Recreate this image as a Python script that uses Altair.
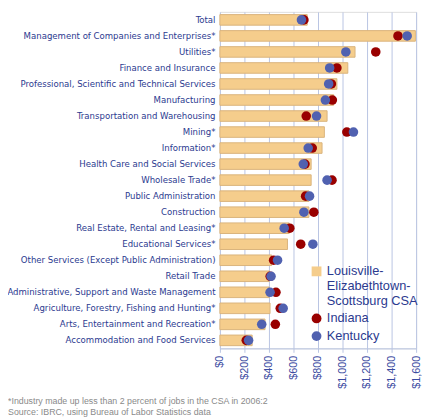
import altair as alt
import pandas as pd

categories = [
    "Total",
    "Management of Companies and Enterprises*",
    "Utilities*",
    "Finance and Insurance",
    "Professional, Scientific and Technical Services",
    "Manufacturing",
    "Transportation and Warehousing",
    "Mining*",
    "Information*",
    "Health Care and Social Services",
    "Wholesale Trade*",
    "Public Administration",
    "Construction",
    "Real Estate, Rental and Leasing*",
    "Educational Services*",
    "Other Services (Except Public Administration)",
    "Retail Trade",
    "Administrative, Support and Waste Management",
    "Agriculture, Forestry, Fishing and Hunting*",
    "Arts, Entertainment and Recreation*",
    "Accommodation and Food Services",
]
csa = [712, 1594, 1102, 1043, 954, 927, 874, 852, 833, 744, 744, 726, 726, 565, 551, 422, 403, 403, 409, 368, 263]
indiana = [685, 1452, 1271, 954, 909, 917, 704, 1035, 753, 694, 914, 699, 766, 570, 659, 438, 410, 457, 492, 452, 215]
kentucky = [665, 1527, 1027, 895, 887, 860, 788, 1089, 720, 680, 874, 731, 685, 524, 758, 470, 417, 409, 516, 341, 234]

series_names = ["Louisville-Elizabethtown-Scottsburg CSA", "Indiana", "Kentucky"]
series_colors = ["#f5cd8c", "#990000", "#5061b0"]
series_shapes = ["square", "circle", "circle"]
x_ticks = [0, 200, 400, 600, 800, 1000, 1200, 1400, 1600]
footnotes = [
    "*Industry made up less than 2 percent of jobs in the CSA in 2006:2",
    "Source: IBRC, using Bureau of Labor Statistics data",
]

bars_df = pd.DataFrame({"industry": categories, "wage": csa, "series": series_names[0]})
pts_df = pd.concat([
    pd.DataFrame({"industry": categories, "wage": indiana, "series": series_names[1]}),
    pd.DataFrame({"industry": categories, "wage": kentucky, "series": series_names[2]}),
], ignore_index=True)

TXT = "#2b3a8f"
GRID = "#b9c4e2"
NARROW = "Liberation Sans Narrow, Arial Narrow, DejaVu Sans Condensed, sans-serif"

color_scale = alt.Scale(domain=series_names, range=series_colors)
shape_scale = alt.Scale(domain=series_names, range=series_shapes)
y_enc = alt.Y(
    "industry:N",
    sort=categories,
    title=None,
    scale=alt.Scale(paddingInner=0.34, paddingOuter=0.17),
    axis=alt.Axis(domain=False, ticks=False, labelFont=NARROW, labelFontSize=9.7,
                  labelColor=TXT, labelLimit=0, labelPadding=5),
)
x_enc = alt.X(
    "wage:Q",
    title=None,
    scale=alt.Scale(domain=[0, 1600], nice=False),
    axis=alt.Axis(values=x_ticks, format="$,.0f", labelAngle=-90, labelFont="Liberation Sans",
                  labelFontSize=11, labelColor="#3a4aa0", gridColor=GRID, gridWidth=1,
                  domainColor=GRID, tickColor=GRID, tickSize=4, labelPadding=3,
                  labelOverlap=False, labelBound=False, labelFlush=False),
)

legend = alt.Legend(
    title=None,
    orient="none",
    legendX=92,
    legendY=258,
    labelFont="Liberation Sans",
    labelFontSize=13,
    labelColor=TXT,
    symbolSize=100,
    symbolStrokeWidth=0,
    rowPadding=4,
    labelExpr="datum.label == 'Louisville-Elizabethtown-Scottsburg CSA' ? ['Louisville-', 'Elizabethtown-', 'Scottsburg CSA'] : datum.label",
)

bars = alt.Chart(bars_df).mark_bar(stroke="#d9b47c", strokeWidth=1).encode(
    y=y_enc, x=x_enc, color=alt.Color("series:N", scale=color_scale, legend=legend)
)
points = alt.Chart(pts_df).mark_point(size=95, opacity=1, filled=True).encode(
    y=y_enc,
    x=x_enc,
    color=alt.Color("series:N", scale=color_scale, legend=legend),
    shape=alt.Shape("series:N", scale=shape_scale, legend=legend),
    order=alt.Order("series:N"),
)

chart = alt.layer(bars, points).properties(
    width=200,
    height=343,
    autosize=alt.AutoSizeParams(type="none"),
    padding={"left": 216, "top": 0, "right": 6, "bottom": 66},
    title=alt.TitleParams(text=footnotes, orient="bottom", anchor="start", frame="group",
                          dx=-216, offset=9, font="Liberation Sans", fontSize=9,
                          fontWeight="normal", color="#8a8a8a", lineHeight=11),
).configure_view(strokeWidth=0).configure(background="white")

chart.save("out.html", embed_options={"renderer": "svg", "actions": False})
